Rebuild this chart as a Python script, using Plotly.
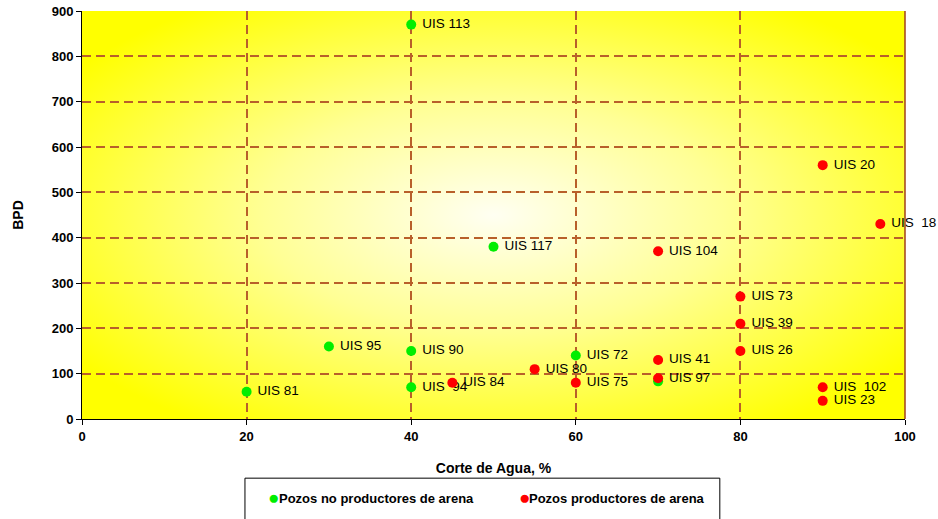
import base64
import plotly.graph_objects as go

# ── Data ──────────────────────────────────────────────────
no_sand_names = ["UIS 113", "UIS 117", "UIS 95", "UIS 90", "UIS 72", "UIS 81", "UIS\u00a0\u00a094", ""]
no_sand_cut = [40, 50, 30, 40, 60, 20, 40, 70]
no_sand_bpd = [870, 380, 160, 150, 140, 60, 70, 83]

sand_names = ["UIS 20", "UIS\u00a0\u00a018", "UIS 104", "UIS 73", "UIS 39", "UIS 26", "UIS 41",
              "UIS 97", "UIS 80", "UIS 84", "UIS 75", "UIS\u00a0\u00a0102", "UIS 23"]
sand_cut = [90, 97, 70, 80, 80, 80, 70, 70, 55, 45, 60, 90, 90]
sand_bpd = [560, 430, 370, 270, 210, 150, 130, 90, 110, 80, 80, 70, 40]

x_ticks = [0, 20, 40, 60, 80, 100]
y_ticks = [0, 100, 200, 300, 400, 500, 600, 700, 800, 900]

legend_labels = ["Pozos no productores de arena", "Pozos productores de arena"]
legend_colors = ["#00EE00", "#FF0000"]

GRID = "#B8602A"
FONT = "Arial, Liberation Sans, sans-serif"

# radial yellow background
svg = """<svg xmlns='http://www.w3.org/2000/svg' width='823' height='408' preserveAspectRatio='none'>
<defs><radialGradient id='g' cx='50%' cy='50%' r='62%'>
<stop offset='0%' stop-color='#FFFFF2'/>
<stop offset='45%' stop-color='#FFFF95'/>
<stop offset='100%' stop-color='#FFFF00'/>
</radialGradient></defs>
<rect width='823' height='408' fill='url(#g)'/></svg>"""
bg_src = "data:image/svg+xml;base64," + base64.b64encode(svg.encode()).decode()


def pad(names):
    # small gap between marker and label, like the original
    return ["\u00a0" + n if n else n for n in names]


fig = go.Figure()

fig.add_trace(go.Scatter(
    x=no_sand_cut, y=no_sand_bpd, text=pad(no_sand_names),
    mode="markers+text", textposition="middle right",
    marker=dict(color=legend_colors[0], size=10, line=dict(width=0)),
    textfont=dict(family=FONT, size=13.5, color="#000000"),
    name=legend_labels[0], cliponaxis=False,
))
fig.add_trace(go.Scatter(
    x=sand_cut, y=sand_bpd, text=pad(sand_names),
    mode="markers+text", textposition="middle right",
    marker=dict(color=legend_colors[1], size=10, line=dict(width=0)),
    textfont=dict(family=FONT, size=13.5, color="#000000"),
    name=legend_labels[1], cliponaxis=False,
))

fig.add_layout_image(dict(
    source=bg_src, xref="paper", yref="paper", x=0, y=1,
    sizex=1, sizey=1, xanchor="left", yanchor="top",
    sizing="stretch", layer="below",
))

fig.update_layout(
    width=938, height=519,
    paper_bgcolor="white", plot_bgcolor="rgba(0,0,0,0)",
    margin=dict(l=82, r=33, t=11, b=100),
    font=dict(family=FONT, size=11, color="#000000"),
    showlegend=False,
    xaxis=dict(
        range=[0, 100], tickvals=x_ticks, showgrid=True, automargin=False,
        gridcolor=GRID, griddash="9px,5px", gridwidth=1.5,
        showline=True, linecolor="#000000", linewidth=1, mirror=False,
        ticks="outside", ticklen=5, tickcolor="#000000",
        tickfont=dict(weight="bold", size=13), zeroline=False,
        title=dict(text="<b>Corte de Agua, %</b>", font=dict(size=14), standoff=20),
    ),
    yaxis=dict(
        range=[0, 900], tickvals=y_ticks, showgrid=True, automargin=False,
        gridcolor=GRID, griddash="9px,5px", gridwidth=1.5,
        showline=True, linecolor="#000000", linewidth=1,
        ticks="outside", ticklen=5, tickcolor="#000000",
        tickfont=dict(weight="bold", size=13), zeroline=False,
        title=dict(text="<b>BPD</b>", font=dict(size=14), standoff=24),
    ),
)

# right border of the plot area
fig.add_shape(type="line", xref="paper", yref="paper", x0=1, x1=1, y0=0, y1=1,
              line=dict(color="#A0401A", width=1.5))

# legend drawn by hand so it does not push the margins
fig.add_shape(type="rect", xref="paper", yref="paper", x0=0.198, x1=0.775, y0=-0.145, y1=-0.3,
              line=dict(color="#000000", width=1), fillcolor="white")
for lx, label, col in zip([0.224, 0.528], legend_labels, legend_colors):
    fig.add_annotation(xref="paper", yref="paper", x=lx, y=-0.192, xanchor="left", yanchor="middle",
                       text="●", showarrow=False, font=dict(family=FONT, size=19, color=col))
    fig.add_annotation(xref="paper", yref="paper", x=lx + 0.0125, y=-0.194, xanchor="left", yanchor="middle",
                       text=f"<b>{label}</b>", showarrow=False,
                       font=dict(family=FONT, size=13, color="#000000"))

fig.write_html("out.html", config={"displayModeBar": False},
               post_script="document.body.style.margin='0';")
